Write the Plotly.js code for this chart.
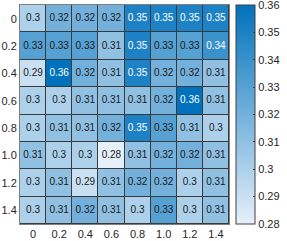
<!DOCTYPE html>
<html>
<head>
<meta charset="utf-8">
<script src="https://cdn.plot.ly/plotly-3.0.1.min.js"></script>
<style>html,body{margin:0;padding:0;background:#fff;}#chart{width:287px;height:241px;}</style>
</head>
<body>
<div id="chart"></div>
<script>
var xLabels = ['0','0.2','0.4','0.6','0.8','1.0','1.2','1.4'];
var yLabels = ['0','0.2','0.4','0.6','0.8','1.0','1.2','1.4'];
var values = [
  [0.30, 0.32, 0.32, 0.32, 0.35, 0.35, 0.35, 0.35],
  [0.33, 0.33, 0.33, 0.31, 0.35, 0.33, 0.33, 0.34],
  [0.29, 0.36, 0.32, 0.31, 0.35, 0.32, 0.32, 0.31],
  [0.30, 0.30, 0.31, 0.31, 0.31, 0.32, 0.36, 0.31],
  [0.30, 0.31, 0.31, 0.32, 0.35, 0.33, 0.31, 0.30],
  [0.31, 0.30, 0.30, 0.28, 0.31, 0.32, 0.32, 0.31],
  [0.30, 0.31, 0.29, 0.31, 0.32, 0.32, 0.30, 0.31],
  [0.30, 0.31, 0.32, 0.31, 0.30, 0.33, 0.30, 0.31]
];
var cbTicks = [0.28, 0.29, 0.30, 0.31, 0.32, 0.33, 0.34, 0.35, 0.36];
var cbTickText = ['0.28','0.29','0.3','0.31','0.32','0.33','0.34','0.35','0.36'];

var tx = [], ty = [], tt = [], tc = [];
for (var i = 0; i < yLabels.length; i++) {
  for (var j = 0; j < xLabels.length; j++) {
    tx.push(xLabels[j]); ty.push(yLabels[i]);
    tt.push(String(+values[i][j].toFixed(2)));
    tc.push(values[i][j] >= 0.335 ? '#ffffff' : '#1a1a1a');
  }
}

var heat = {
  type: 'heatmap',
  x: xLabels, y: yLabels, z: values,
  zmin: 0.28, zmax: 0.36001,
  xgap: 1, ygap: 1,
  colorscale: [[0, '#e6f0fa'], [1, '#0072bd']],
  hoverinfo: 'skip',
  colorbar: {
    x: 1.0286, xanchor: 'left', xpad: 0,
    y: 0.5, yanchor: 'middle', len: 1.0, lenmode: 'fraction', ypad: 0,
    thickness: 19, thicknessmode: 'pixels',
    outlinecolor: '#404040', outlinewidth: 1,
    tickmode: 'array', tickvals: cbTicks, ticktext: cbTickText,
    ticks: 'inside', ticklen: 2, tickcolor: '#404040',
    ticklabeloverflow: 'allow',
    tickfont: {family: 'Liberation Sans, Arial, sans-serif', size: 11, color: '#262626'}
  }
};

var labels = {
  type: 'scatter', mode: 'text',
  x: tx, y: ty, text: tt,
  textfont: {family: 'Liberation Sans, Arial, sans-serif', size: 10, color: tc},
  hoverinfo: 'skip', showlegend: false
};

var layout = {
  width: 287, height: 241,
  margin: {l: 20, r: 57, t: 5, b: 17},
  paper_bgcolor: '#ffffff',
  plot_bgcolor: '#3a3a3a',
  showlegend: false,
  font: {family: 'Liberation Sans, Arial, sans-serif', size: 11, color: '#262626'},
  xaxis: {
    type: 'category', categoryorder: 'array', categoryarray: xLabels,
    showgrid: false, zeroline: false, ticks: '', ticklen: 0,
    showline: true, mirror: true, linecolor: '#7f7f7f', linewidth: 1,
    tickfont: {size: 11, color: '#262626'}
  },
  yaxis: {
    type: 'category', categoryorder: 'array', categoryarray: yLabels,
    autorange: 'reversed',
    showgrid: false, zeroline: false, ticks: '', ticklen: 0,
    showline: true, mirror: true, linecolor: '#7f7f7f', linewidth: 1,
    tickfont: {size: 11, color: '#262626'}
  }
};

Plotly.newPlot('chart', [heat, labels], layout, {displayModeBar: false, staticPlot: true});
</script>
</body>
</html>
